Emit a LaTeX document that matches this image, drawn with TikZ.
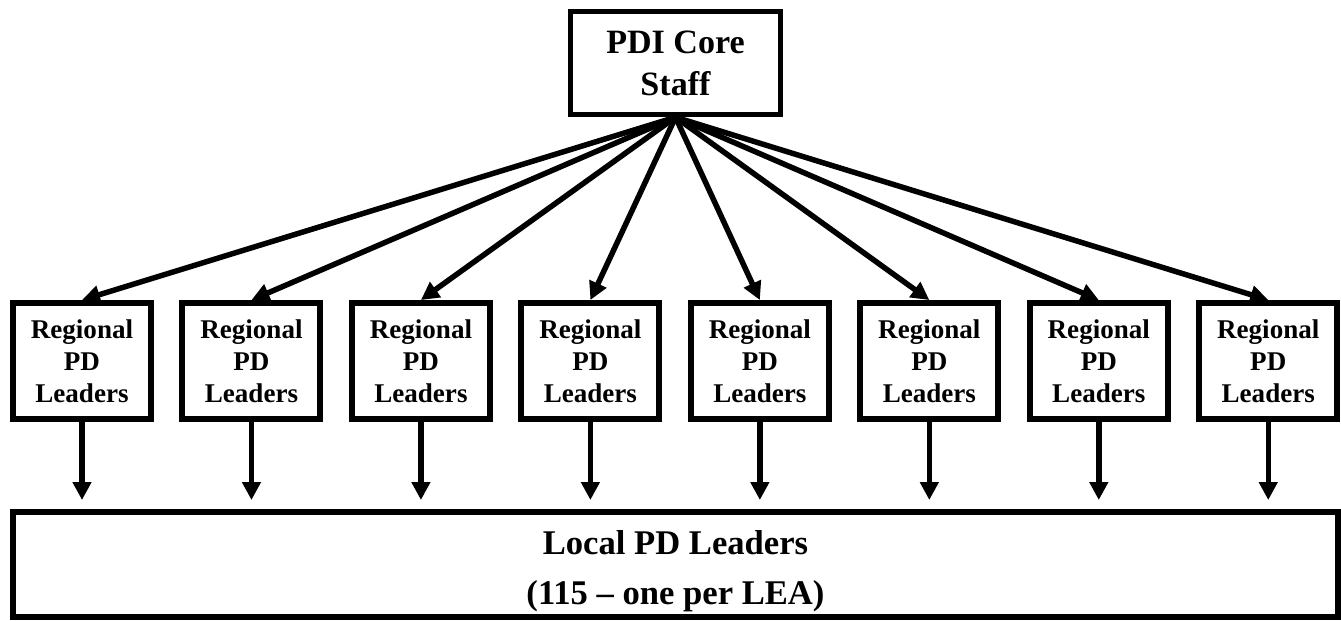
\documentclass[tikz,border=0pt]{standalone}
\usepackage{fontspec}
\setmainfont{Liberation Serif}
\usepackage{tikz}
\usetikzlibrary{arrows.meta, positioning}

\begin{document}
\begin{tikzpicture}[
        x=0.02cm, y=-0.02cm,
        node distance=0.51cm,
        core/.style={rectangle, draw, line width=0.11cm, minimum width=4.2cm, minimum height=2.06cm, inner sep=0pt, align=center, font=\fontsize{19.4}{23.9}\selectfont\bfseries},
        region/.style={rectangle, draw, line width=0.12cm, minimum width=2.76cm, minimum height=2.32cm, inner sep=0pt, align=center, font=\fontsize{15.4}{18.2}\selectfont\bfseries},
        local/.style={rectangle, draw, line width=0.12cm, minimum width=26.5cm, minimum height=2.1cm, inner sep=0pt, align=center, font=\fontsize{19.7}{28.5}\selectfont\bfseries},
        arrow/.style={-{Triangle[width=0.36cm, length=0.36cm]}, line width=0.11cm}
    ]
        \useasboundingbox (0,0) rectangle (1341,620);

        % top
        \node[core] (core) at (675.5,63) {PDI Core\\Staff};

        % regional leaders
        \node[region] (r1) at (82,361) {Regional\\PD\\Leaders};
        \node[region, right=of r1] (r2) {Regional\\PD\\Leaders};
        \node[region, right=of r2] (r3) {Regional\\PD\\Leaders};
        \node[region, right=of r3] (r4) {Regional\\PD\\Leaders};
        \node[region, right=of r4] (r5) {Regional\\PD\\Leaders};
        \node[region, right=of r5] (r6) {Regional\\PD\\Leaders};
        \node[region, right=of r6] (r7) {Regional\\PD\\Leaders};
        \node[region, right=of r7] (r8) {Regional\\PD\\Leaders};

        % local leaders
        \node[local] (loc) at (675.5,564.5) {\rule{0pt}{0.76cm}Local PD Leaders\\(115 -- one per LEA)};

        % core -> regional
        \draw[arrow] (core.south) -- (r1.north);
        \draw[arrow] (core.south) -- (r2.north);
        \draw[arrow] (core.south) -- (r3.north);
        \draw[arrow] (core.south) -- (r4.north);
        \draw[arrow] (core.south) -- (r5.north);
        \draw[arrow] (core.south) -- (r6.north);
        \draw[arrow] (core.south) -- (r7.north);
        \draw[arrow] (core.south) -- (r8.north);

        % regional -> local
        \draw[arrow, shorten >=0.18cm] (r1.south) -- (r1.south |- loc.north);
        \draw[arrow, shorten >=0.18cm] (r2.south) -- (r2.south |- loc.north);
        \draw[arrow, shorten >=0.18cm] (r3.south) -- (r3.south |- loc.north);
        \draw[arrow, shorten >=0.18cm] (r4.south) -- (r4.south |- loc.north);
        \draw[arrow, shorten >=0.18cm] (r5.south) -- (r5.south |- loc.north);
        \draw[arrow, shorten >=0.18cm] (r6.south) -- (r6.south |- loc.north);
        \draw[arrow, shorten >=0.18cm] (r7.south) -- (r7.south |- loc.north);
        \draw[arrow, shorten >=0.18cm] (r8.south) -- (r8.south |- loc.north);
    \end{tikzpicture}
\end{document}
